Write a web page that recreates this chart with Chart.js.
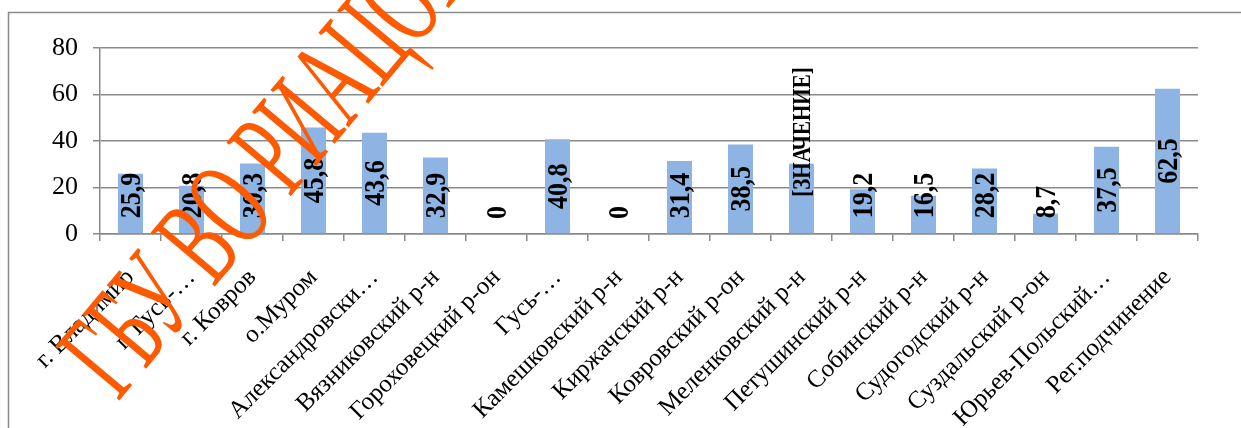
<!DOCTYPE html>
<html>
<head>
<meta charset="utf-8">
<script src="https://cdn.jsdelivr.net/npm/chart.js@4.4.1/dist/chart.umd.min.js"></script>
<style>
  body { margin: 0; background: #fff; }
  #wrap { width: 1241px; height: 428px; }
</style>
</head>
<body>
<div id="wrap"><canvas id="barChart" width="1241" height="428"></canvas></div>
<script>
// categories (as shown on the axis, Excel truncated some of them)
var districts = ['г. Владимир', 'г. Гусь-…', 'г. Ковров', 'о.Муром', 'Александровски…',
  'Вязниковский р-н', 'Гороховецкий р-он', 'Гусь-…', 'Камешковский р-н', 'Киржачский р-н',
  'Ковровский р-он', 'Меленковский р-н', 'Петушинский р-н', 'Собинский р-н', 'Судогодский р-н',
  'Суздальский р-он', 'Юрьев-Польский…', 'Рег.подчинение'];
var shares = [25.9, 20.8, 30.3, 45.8, 43.6, 32.9, 0, 40.8, 0, 31.4, 38.5, 30.2, 19.2, 16.5, 28.2, 8.7, 37.5, 62.5];
// data label texts as printed on the bars
var valueLabels = ['25,9', '20,8', '30,3', '45,8', '43,6', '32,9', '0', '40,8', '0', '31,4',
  '38,5', '[ЗНАЧЕНИЕ]', '19,2', '16,5', '28,2', '8,7', '37,5', '62,5'];
var yTicks = [0, 20, 40, 60, 80];
var watermark = 'ГБУ ВО РИАЦОКО';

var serif = '"Liberation Serif", "Times New Roman", serif';

// outer frame of the chart
var framePlugin = {
  id: 'frame',
  beforeDraw: function(chart) {
    var ctx = chart.ctx;
    ctx.save();
    ctx.strokeStyle = '#8a8a8a';
    ctx.lineWidth = 1.5;
    ctx.strokeRect(8.5, 12.5, 1300, 500);
    ctx.restore();
  }
};

// vertical value labels inside the bars
var labelPlugin = {
  id: 'barLabels',
  afterDatasetsDraw: function(chart) {
    var ctx = chart.ctx;
    var meta = chart.getDatasetMeta(0);
    ctx.save();
    ctx.fillStyle = '#000';
    ctx.textAlign = 'center';
    ctx.textBaseline = 'middle';
    meta.data.forEach(function(bar, i) {
      var txt = valueLabels[i];
      var isNum = /^[0-9,]+$/.test(txt);
      ctx.font = 'bold ' + (isNum ? 26 : 21) + 'px ' + serif;
      var w = ctx.measureText(txt).width;
      var cy;
      if (isNum) {
        cy = Math.min((bar.y + bar.base) / 2, bar.base - 15 - w / 2);
      } else {
        cy = bar.y + 33 - w / 2;
      }
      ctx.save();
      ctx.translate(bar.x + 2, cy);
      ctx.rotate(-Math.PI / 2);
      ctx.scale(1, 1.15);
      ctx.fillText(txt, 0, 0);
      ctx.restore();
    });
    ctx.restore();
  }
};

// red stamp across the picture
var stampPlugin = {
  id: 'stamp',
  afterDraw: function(chart) {
    var ctx = chart.ctx;
    ctx.save();
    ctx.translate(118, 402);
    ctx.rotate(-50 * Math.PI / 180);
    ctx.scale(0.56, 1);
    ctx.font = '128px ' + serif;
    ctx.fillStyle = '#ff5a00';
    ctx.textBaseline = 'alphabetic';
    ctx.fillText(watermark, 0, 0);
    ctx.restore();
  }
};

var ctx = document.getElementById('barChart');

var chartdata = {
  labels: districts,
  datasets: [{
    data: shares,
    backgroundColor: '#8db4e2',
    borderWidth: 0,
    barPercentage: 0.41,
    categoryPercentage: 1.0
  }]
};

var options = {
  responsive: false,
  animation: false,
  layout: { padding: { left: 0, top: 48, right: 43, bottom: 0 } },
  plugins: {
    legend: { display: false },
    title: { display: false },
    tooltip: { enabled: false }
  },
  scales: {
    x: {
      offset: true,
      grid: {
        offset: true,
        drawOnChartArea: false,
        drawTicks: true,
        tickLength: 7,
        color: '#8a8a8a',
        lineWidth: 1.5
      },
      border: { display: true, color: '#8a8a8a', width: 1.5 },
      ticks: {
        autoSkip: false,
        maxRotation: 45,
        minRotation: 45,
        padding: 22,
        color: '#000',
        font: { family: serif, size: 25 }
      },
      afterFit: function(s) {
        s.height = 194;
        s.paddingLeft = 0;
        s.paddingRight = 0;
      }
    },
    y: {
      min: 0,
      max: 80,
      afterBuildTicks: function(s) { s.ticks = yTicks.map(function(v) { return { value: v }; }); },
      grid: {
        color: '#8a8a8a',
        lineWidth: 1.5,
        drawTicks: true,
        tickLength: 7
      },
      border: { display: true, color: '#8a8a8a', width: 1.5 },
      ticks: {
        padding: 15,
        color: '#000',
        font: { family: serif, size: 26 }
      },
      afterFit: function(s) { s.width = 100; }
    }
  }
};

var barGraph = new Chart(ctx, {
  type: 'bar',
  data: chartdata,
  options: options,
  plugins: [framePlugin, labelPlugin, stampPlugin]
});
</script>
</body>
</html>
